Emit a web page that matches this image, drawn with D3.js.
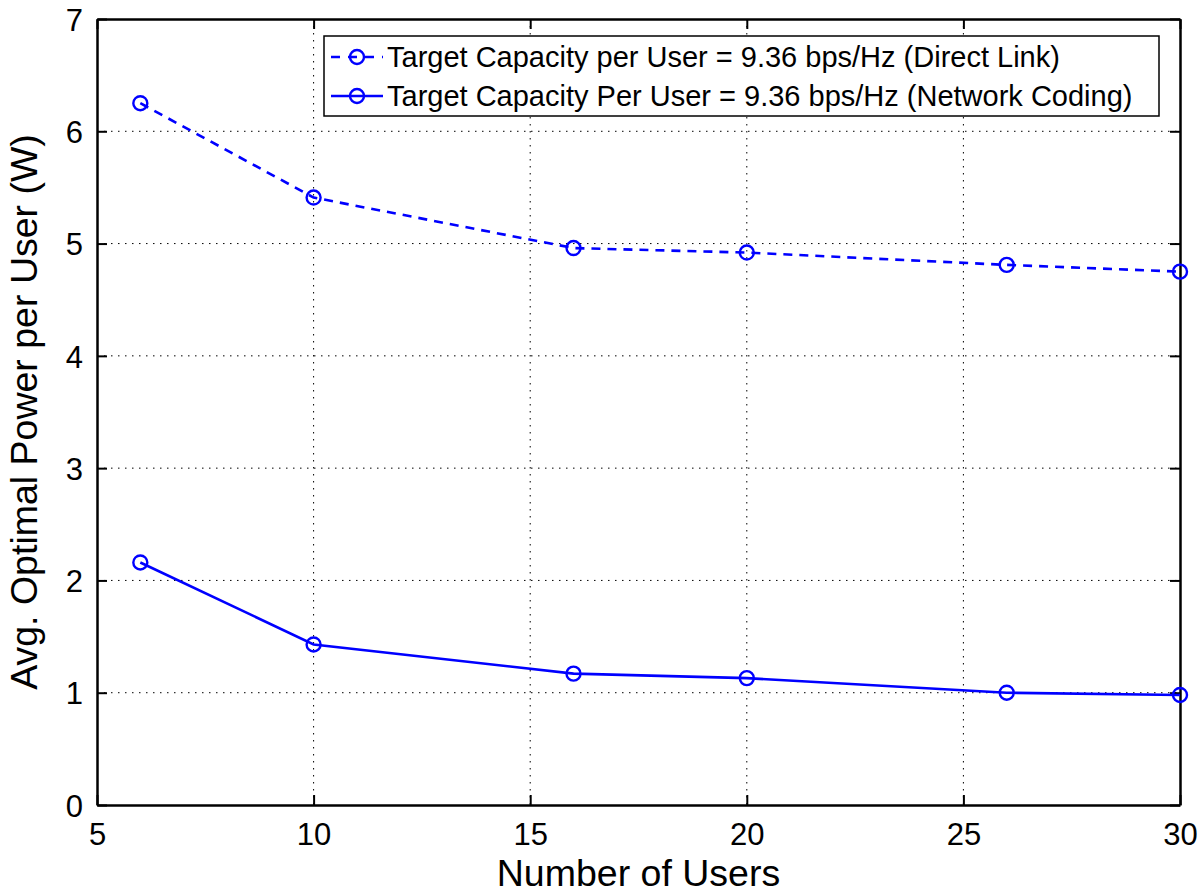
<!DOCTYPE html>
<html><head><meta charset="utf-8">
<script src="https://cdn.jsdelivr.net/npm/d3@7"></script>
<style>body{margin:0;background:#fff}svg{display:block}text{font-family:"Liberation Sans",Arial,sans-serif}</style>
</head><body>
<svg id="c" width="1200" height="896"></svg>
<script>
const users = [6, 10, 16, 20, 26, 30];
const directLink = [6.25, 5.41, 4.96, 4.92, 4.81, 4.75];
const networkCoding = [2.16, 1.43, 1.17, 1.13, 1.00, 0.98];
const xTicks = [5, 10, 15, 20, 25, 30];
const yTicks = [0, 1, 2, 3, 4, 5, 6, 7];
const seriesNames = ["Target Capacity per User = 9.36 bps/Hz (Direct Link)",
                     "Target Capacity Per User = 9.36 bps/Hz (Network Coding)"];

const svg = d3.select("#c");
const L = 97, R = 1180, T = 19, B = 805;
const x = d3.scaleLinear().domain([5, 30]).range([L, R]);
const y = d3.scaleLinear().domain([0, 7]).range([B, T]);
const blue = "#0000ff";
const FF = '"Liberation Sans",Arial,sans-serif';

// grid
const g = svg.append("g");
g.selectAll(".gx").data(xTicks.slice(1, -1)).join("line")
  .attr("x1", d => x(d)).attr("x2", d => x(d)).attr("y1", T).attr("y2", B)
  .attr("stroke", "#000").attr("stroke-width", 1).attr("stroke-dasharray", "1.5,5.5");
g.selectAll(".gy").data(yTicks.slice(1, -1)).join("line")
  .attr("x1", L).attr("x2", R).attr("y1", d => y(d)).attr("y2", d => y(d))
  .attr("stroke", "#000").attr("stroke-width", 1).attr("stroke-dasharray", "1.5,5.5");

// axes
const fmt = d3.format("d");
const xb = svg.append("g").attr("transform", `translate(0,${B})`)
  .call(d3.axisBottom(x).tickValues(xTicks).tickFormat(fmt).tickSize(-10).tickPadding(18).tickSizeOuter(0));
const xt = svg.append("g").attr("transform", `translate(0,${T})`)
  .call(d3.axisTop(x).tickValues(xTicks).tickSize(-10).tickFormat("").tickSizeOuter(0));
const yl = svg.append("g").attr("transform", `translate(${L},0)`)
  .call(d3.axisLeft(y).tickValues(yTicks).tickFormat(fmt).tickSize(-10).tickPadding(14).tickSizeOuter(0));
const yr = svg.append("g").attr("transform", `translate(${R},0)`)
  .call(d3.axisRight(y).tickValues(yTicks).tickSize(-10).tickFormat("").tickSizeOuter(0));
[xb, xt, yl, yr].forEach(a => {
  a.attr("font-size", 31).attr("font-family", FF);
  a.select(".domain").attr("stroke", "#000").attr("stroke-width", 2.5);
  a.selectAll(".tick line").attr("stroke", "#000").attr("stroke-width", 2);
  a.selectAll("text").attr("fill", "#000");
});
xb.selectAll("text").attr("dy", "0.71em");
yl.selectAll("text").attr("dy", "0.36em");

// lines
const line = d3.line().x((d, i) => x(users[i])).y(d => y(d));
svg.append("path").datum(directLink).attr("d", line).attr("fill", "none")
  .attr("stroke", blue).attr("stroke-width", 2.6).attr("stroke-dasharray", "9,7");
svg.append("path").datum(networkCoding).attr("d", line).attr("fill", "none")
  .attr("stroke", blue).attr("stroke-width", 2.6);
[directLink, networkCoding].forEach(s => {
  svg.append("g").selectAll("circle").data(s).join("circle")
    .attr("cx", (d, i) => x(users[i])).attr("cy", d => y(d)).attr("r", 7)
    .attr("fill", "none").attr("stroke", blue).attr("stroke-width", 2.4);
});

// legend
const lg = svg.append("g");
lg.append("rect").attr("x", 324).attr("y", 36).attr("width", 835).attr("height", 80)
  .attr("fill", "#fff").attr("stroke", "#000").attr("stroke-width", 1.5);
seriesNames.forEach((n, i) => {
  const cy = 57 + i * 39;
  lg.append("line").attr("x1", 331).attr("x2", 383).attr("y1", cy).attr("y2", cy)
    .attr("stroke", blue).attr("stroke-width", 2.6).attr("stroke-dasharray", i === 0 ? "9,8" : null);
  lg.append("circle").attr("cx", 357).attr("cy", cy).attr("r", 7)
    .attr("fill", "none").attr("stroke", blue).attr("stroke-width", 2.4);
  lg.append("text").attr("x", 387).attr("y", cy).attr("dy", "0.36em")
    .attr("font-size", 29).text(n);
});

// axis labels
svg.append("text").attr("x", (L + R) / 2).attr("y", 886).attr("text-anchor", "middle")
  .attr("font-size", 37.5).text("Number of Users");
svg.append("text").attr("transform", `translate(37,${(T + B) / 2}) rotate(-90)`)
  .attr("text-anchor", "middle").attr("font-size", 37.5).text("Avg. Optimal Power per User (W)");
</script>
</body></html>
